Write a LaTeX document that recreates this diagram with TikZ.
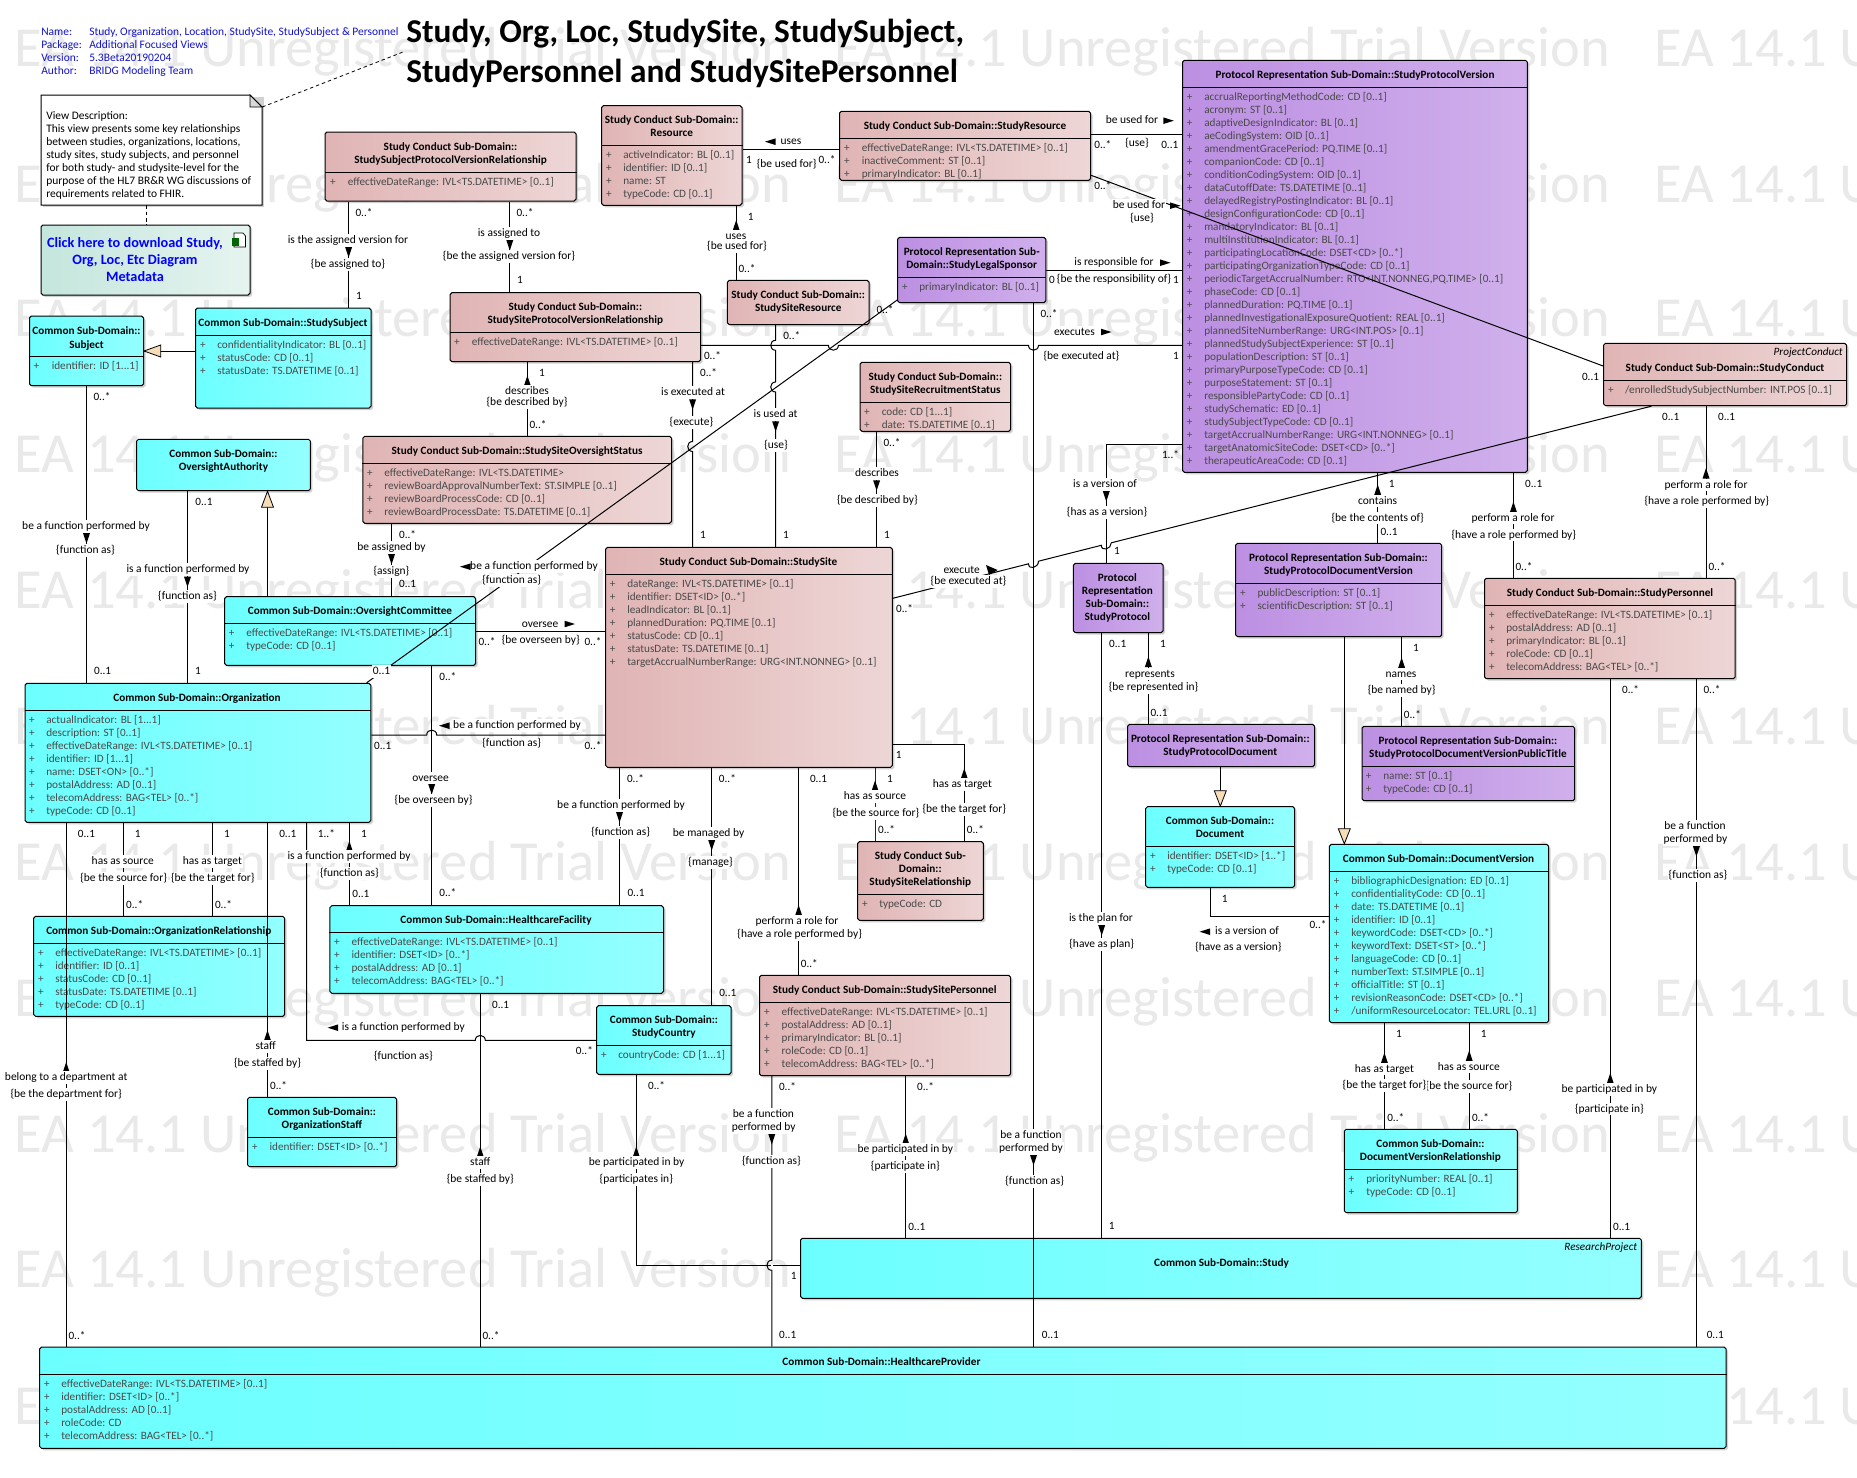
\documentclass[tikz,border=0pt]{standalone}
\usepackage{fontspec}
\setmainfont{Carlito}
\usetikzlibrary{shadows}
\definecolor{pinkL}{HTML}{E0B4B4}
\definecolor{pinkR}{HTML}{EED6D6}
\definecolor{cyanL}{HTML}{6CFFFF}
\definecolor{cyanR}{HTML}{94FFFF}
\definecolor{purpL}{HTML}{BC8FE2}
\definecolor{purpR}{HTML}{D0B0EC}
\definecolor{greenL}{HTML}{C4E6DC}
\definecolor{greenR}{HTML}{E6F4F0}
\definecolor{wmark}{HTML}{E9E9E9}
\definecolor{genfill}{HTML}{F6DDB8}
\definecolor{attrc}{HTML}{4A4A4A}
\definecolor{metac}{HTML}{1414C8}
\newcounter{nid}
\tikzset{
 box/.style={draw=black,line width=.75pt,rounded corners=1.4pt,inner sep=0pt,
   drop shadow={shadow xshift=1.5pt,shadow yshift=-1.5pt,fill=black!30,opacity=.6}},
 pinkb/.style={box,left color=pinkL,right color=pinkR},
 cyanb/.style={box,left color=cyanL,right color=cyanR},
 purpb/.style={box,left color=purpL,right color=purpR},
 greenb/.style={box,left color=greenL,right color=greenR},
 small/.style={font=\fontsize{8.4}{9.75}\selectfont,inner sep=0pt,text height=6.4pt,text depth=1.8pt},
 ttl/.style={small,font=\bfseries\fontsize{8.4}{9.75}\selectfont,anchor=center},
 attrt/.style={small,anchor=west,text=attrc},
 plust/.style={small,anchor=center,text=attrc},
 lab/.style={small,font=\fontsize{8.6}{9.75}\selectfont,anchor=center,fill=white,inner sep=.6pt},
 mul/.style={small,anchor=center},
 sepl/.style={line width=.75pt,draw=black},
 conn/.style={line width=.75pt,draw=black},
 meta/.style={small,font=\fontsize{8.6}{9.75}\selectfont,anchor=west,text=metac},
 gent/.style={line width=.6pt,draw=black,fill=genfill},
 note/.style={dashed,line width=.6pt,dash pattern=on 2.6pt off 2.2pt},
 wm/.style={anchor=west,inner sep=0pt,text=wmark,font=\fontsize{42.4}{46}\selectfont},
}
\newcommand\dBox[6]{\pgfmathsetmacro\bw{(#5-#3)*.75}\pgfmathsetmacro\bh{(#6-#4)*.75}%
 \node[#2,minimum width=\bw pt,minimum height=\bh pt] (#1) at ({(#3+#5)/2},{(#4+#6)/2}) {};}
\newcommand\dSep[2]{\draw[sepl] (#1.west |- 0,#2) -- (#1.east |- 0,#2);}
\newcommand\dTitle[3]{\stepcounter{nid}\node[ttl] (n\arabic{nid}) at (#1,#2) {#3};}
\newcommand\dAttrs[3]{\def\plusX{#1}\def\attrX{#2}\def\attrY{#3}}
\newcommand\dAttr[1]{\stepcounter{nid}\node[plust] (n\arabic{nid}p) at (\plusX,\attrY) {+};\node[attrt] (n\arabic{nid}) at (\attrX,\attrY) {#1};\pgfmathsetmacro\attrY{\attrY+13}}
\newcommand\dLab[3]{\stepcounter{nid}\node[lab] (n\arabic{nid}) at (#1,#2) {#3};}
\newcommand\dMul[3]{\stepcounter{nid}\node[mul] (n\arabic{nid}) at (#1,#2) {#3};}
\newcommand\dVert[3]{\draw[conn] (#1.south -| #3,0) -- (#2.north -| #3,0);}
\newcommand\dHorz[3]{\draw[conn] (#1.east |- 0,#3) -- (#2.west |- 0,#3);}
\newcommand\triD[2]{\fill[black] (#1-3.5,#2) -- (#1+3.5,#2) -- (#1,#2+10.5) -- cycle;}
\newcommand\triU[2]{\fill[black] (#1,#2) -- (#1+3.5,#2+10.5) -- (#1-3.5,#2+10.5) -- cycle;}
\newcommand\triR[2]{\fill[black] (#1,#2-3.3) -- (#1,#2+3.3) -- (#1+10.5,#2) -- cycle;}
\newcommand\triL[2]{\fill[black] (#1+10.5,#2-3.3) -- (#1+10.5,#2+3.3) -- (#1,#2) -- cycle;}
\newcommand\jumpL[2]{-- (#1,#2-5) .. controls (#1-6.5,#2-5) and (#1-6.5,#2+5) .. (#1,#2+5)}
\newcommand\jumpU[2]{-- (#1-5,#2) .. controls (#1-5,#2-6.5) and (#1+5,#2-6.5) .. (#1+5,#2)}
\newcommand\jumpD[2]{-- (#1-5,#2) .. controls (#1-5,#2+6.5) and (#1+5,#2+6.5) .. (#1+5,#2)}
\begin{document}
\begin{tikzpicture}[x=.75pt,y=-.75pt]
\useasboundingbox (0,0) rectangle (1857,1478);
\fill[white] (0,0) rectangle (1857,1478);
% watermark
\begin{scope}
\clip (0,0) rectangle (1857,1478);
\foreach \r in {52,188,322,458,594,730,866,1002,1138,1273,1410}
 \foreach \c in {14.5,834,1654}
  \node[wm] (wm\r-\c) at (\c,\r) {EA 14.1 Unregistered Trial Version};
\end{scope}
% header texts
\node[meta] (mn1) at (41,32) {Name:};
\node[meta] (mv1) at (89,32) {Study, Organization, Location, StudySite, StudySubject \& Personnel};
\node[meta] (mn2) at (41,45) {Package:};
\node[meta] (mv2) at (89,45) {Additional Focused Views};
\node[meta] (mn3) at (41,58) {Version:};
\node[meta] (mv3) at (89,58) {5.3Beta20190204};
\node[meta] (mn4) at (41,71) {Author:};
\node[meta] (mv4) at (89,71) {BRIDG Modeling Team};
\node[anchor=west,inner sep=0pt,font=\bfseries\fontsize{25}{30}\selectfont,align=left] (maintitle) at (406,53) {Study, Org, Loc, StudySite, StudySubject,\\StudyPersonnel and StudySitePersonnel};
\coordinate (titlec) at (403,52);
% note
\fill[black!18] (43,97) rectangle (264,207);
\draw[line width=.75pt,fill=white] (41,95) -- (250,95) -- (262,107) -- (262,205) -- (41,205) -- cycle;
\draw[line width=.6pt,fill=black!15] (250,95) -- (250,107) -- (262,107) -- cycle;
\node[inner sep=0pt,minimum width=165.75pt,minimum height=82.5pt] (noteb) at (151.5,150) {};
\node[anchor=west,inner sep=0pt,align=left,font=\fontsize{8.6}{9.75}\selectfont] (notet) at (46,155) {View Description:\\This view presents some key relationships\\between studies, organizations, locations,\\study sites, study subjects, and personnel\\for both study- and studysite-level for the\\purpose of the HL7 BR\&R WG discussions of\\requirements related to FHIR.};
% green
\dBox{dl}{greenb}{41}{225}{250}{295}
\node[inner sep=0pt,font=\bfseries\fontsize{10.7}{12.75}\selectfont,text=blue,align=center] (dlt) at (135,259.5) {Click here to download Study,\\Org, Loc, Etc Diagram\\Metadata};
\draw[line width=.5pt,fill=white] (234,233) -- (243,233) -- (245.5,236) -- (245.5,247) -- (234,247) -- cycle;
\fill[black!60!green] (232,238) rectangle (238.5,245.5);
% boxes
\dBox{subject}{cyanb}{29.5}{316}{143.5}{385.7}
\dSep{subject}{356}
\dTitle{86.5}{331.7}{Common Sub-Domain::}\dTitle{86.5}{345}{Subject}
\dAttrs{36.5}{51.5}{366.7}\dAttr{identifier: ID [1...1]}

\dBox{ssubj}{cyanb}{195.5}{308}{371}{408}
\dSep{ssubj}{335}
\dTitle{283}{323.7}{Common Sub-Domain::StudySubject}
\dAttrs{203}{217}{345.7}\dAttr{confidentialityIndicator: BL [0..1]}\dAttr{statusCode: CD [0..1]}\dAttr{statusDate: TS.DATETIME [0..1]}

\dBox{sspvr}{pinkb}{325}{132}{576}{201}
\dSep{sspvr}{172.7}
\dTitle{450.5}{147.7}{Study Conduct Sub-Domain::}\dTitle{450.5}{160.7}{StudySubjectProtocolVersionRelationship}
\dAttrs{333}{347.5}{182.7}\dAttr{effectiveDateRange: IVL<TS.DATETIME> [0..1]}

\dBox{sitepvr}{pinkb}{450}{292.7}{700.6}{361.7}
\dSep{sitepvr}{332.3}
\dTitle{575.3}{307.7}{Study Conduct Sub-Domain::}\dTitle{575.3}{320.7}{StudySiteProtocolVersionRelationship}
\dAttrs{457}{471.5}{342.7}\dAttr{effectiveDateRange: IVL<TS.DATETIME> [0..1]}

\dBox{resource}{pinkb}{601.5}{105.7}{742}{205.3}
\dSep{resource}{145.3}
\dTitle{671.7}{120.7}{Study Conduct Sub-Domain::}\dTitle{671.7}{133.7}{Resource}
\dAttrs{609}{623}{155.7}\dAttr{activeIndicator: BL [0..1]}\dAttr{identifier: ID [0..1]}\dAttr{name: ST}\dAttr{typeCode: CD [0..1]}

\dBox{sres}{pinkb}{839.5}{111.3}{1090.6}{180.3}
\dSep{sres}{138.3}
\dTitle{965}{126.7}{Study Conduct Sub-Domain::StudyResource}
\dAttrs{847}{861.5}{148.7}\dAttr{effectiveDateRange: IVL<TS.DATETIME> [0..1]}\dAttr{inactiveComment: ST [0..1]}\dAttr{primaryIndicator: BL [0..1]}

\dBox{ssres}{pinkb}{727.4}{280.3}{869}{324.7}
\dTitle{798.2}{295.7}{Study Conduct Sub-Domain::}\dTitle{798.2}{308.7}{StudySiteResource}

\dBox{legal}{purpb}{897.7}{237.3}{1045.8}{302.7}
\dSep{legal}{277.7}
\dTitle{971.7}{252.7}{Protocol Representation Sub-}\dTitle{971.7}{265.7}{Domain::StudyLegalSponsor}
\dAttrs{905}{919}{287.7}\dAttr{primaryIndicator: BL [0..1]}

\dBox{recruit}{pinkb}{860}{362.3}{1010.6}{431.3}
\dSep{recruit}{402.7}
\dTitle{935.3}{377.7}{Study Conduct Sub-Domain::}\dTitle{935.3}{390.7}{StudySiteRecruitmentStatus}
\dAttrs{867}{881.5}{412.7}\dAttr{code: CD [1...1]}\dAttr{date: TS.DATETIME [0..1]}

\dBox{pv}{purpb}{1182.5}{60.3}{1527.4}{472.3}
\dSep{pv}{87.3}
\dTitle{1355}{75.7}{Protocol Representation Sub-Domain::StudyProtocolVersion}
\dAttrs{1189.7}{1204}{97.7}
\dAttr{accrualReportingMethodCode: CD [0..1]}\dAttr{acronym: ST [0..1]}\dAttr{adaptiveDesignIndicator: BL [0..1]}\dAttr{aeCodingSystem: OID [0..1]}\dAttr{amendmentGracePeriod: PQ.TIME [0..1]}\dAttr{companionCode: CD [0..1]}\dAttr{conditionCodingSystem: OID [0..1]}\dAttr{dataCutoffDate: TS.DATETIME [0..1]}\dAttr{delayedRegistryPostingIndicator: BL [0..1]}\dAttr{designConfigurationCode: CD [0..1]}\dAttr{mandatoryIndicator: BL [0..1]}\dAttr{multiInstitutionIndicator: BL [0..1]}\dAttr{participatingLocationCode: DSET<CD> [0..*]}\dAttr{participatingOrganizationTypeCode: CD [0..1]}\dAttr{periodicTargetAccrualNumber: RTO<INT.NONNEG,PQ.TIME> [0..1]}\dAttr{phaseCode: CD [0..1]}\dAttr{plannedDuration: PQ.TIME [0..1]}\dAttr{plannedInvestigationalExposureQuotient: REAL [0..1]}\dAttr{plannedSiteNumberRange: URG<INT.POS> [0..1]}\dAttr{plannedStudySubjectExperience: ST [0..1]}\dAttr{populationDescription: ST [0..1]}\dAttr{primaryPurposeTypeCode: CD [0..1]}\dAttr{purposeStatement: ST [0..1]}\dAttr{responsiblePartyCode: CD [0..1]}\dAttr{studySchematic: ED [0..1]}\dAttr{studySubjectTypeCode: CD [0..1]}\dAttr{targetAccrualNumberRange: URG<INT.NONNEG> [0..1]}\dAttr{targetAnatomicSiteCode: DSET<CD> [0..*]}\dAttr{therapeuticAreaCode: CD [0..1]}

\dBox{sconduct}{pinkb}{1603.6}{343.3}{1846.6}{405.7}
\dSep{sconduct}{380.3}
\stepcounter{nid}\node[small,anchor=east,font=\itshape\fontsize{8.4}{9.75}\selectfont] (n\arabic{nid}) at (1843,352.7) {ProjectConduct};
\dTitle{1725}{368.7}{Study Conduct Sub-Domain::StudyConduct}
\dAttrs{1610.8}{1624.8}{390.7}\dAttr{/enrolledStudySubjectNumber: INT.POS [0..1]}

\dBox{oa}{cyanb}{136.6}{439.3}{310.4}{490.7}
\dTitle{223.5}{454.7}{Common Sub-Domain::}\dTitle{223.5}{467.7}{OversightAuthority}

\dBox{status}{pinkb}{362.8}{436.3}{671.5}{523.3}
\dSep{status}{463.3}
\dTitle{517}{451.7}{Study Conduct Sub-Domain::StudySiteOversightStatus}
\dAttrs{370}{384}{473.7}\dAttr{effectiveDateRange: IVL<TS.DATETIME>}\dAttr{reviewBoardApprovalNumberText: ST.SIMPLE [0..1]}\dAttr{reviewBoardProcessCode: CD [0..1]}\dAttr{reviewBoardProcessDate: TS.DATETIME [0..1]}

\dBox{oc}{cyanb}{224.6}{596.7}{475.7}{665.3}
\dSep{oc}{623.3}
\dTitle{350}{611.7}{Common Sub-Domain::OversightCommittee}
\dAttrs{231.7}{246}{633.7}\dAttr{effectiveDateRange: IVL<TS.DATETIME> [0..1]}\dAttr{typeCode: CD [0..1]}

\dBox{org}{cyanb}{25}{683.3}{370.8}{822.3}
\dSep{org}{710.3}
\dTitle{197}{698.7}{Common Sub-Domain::Organization}
\dAttrs{32}{46}{720.7}\dAttr{actualIndicator: BL [1...1]}\dAttr{description: ST [0..1]}\dAttr{effectiveDateRange: IVL<TS.DATETIME> [0..1]}\dAttr{identifier: ID [1...1]}\dAttr{name: DSET<ON> [0..*]}\dAttr{postalAddress: AD [0..1]}\dAttr{telecomAddress: BAG<TEL> [0..*]}\dAttr{typeCode: CD [0..1]}

\dBox{site}{pinkb}{605.7}{547.3}{892.3}{767.3}
\dSep{site}{574.7}
\dTitle{748.4}{562.7}{Study Conduct Sub-Domain::StudySite}
\dAttrs{612.6}{627}{584.7}\dAttr{dateRange: IVL<TS.DATETIME> [0..1]}\dAttr{identifier: DSET<ID> [0..*]}\dAttr{leadIndicator: BL [0..1]}\dAttr{plannedDuration: PQ.TIME [0..1]}\dAttr{statusCode: CD [0..1]}\dAttr{statusDate: TS.DATETIME [0..1]}\dAttr{targetAccrualNumberRange: URG<INT.NONNEG> [0..1]}

\dBox{protocol}{purpb}{1073.4}{563.3}{1163}{632.7}
\dTitle{1117.4}{578.7}{Protocol}\dTitle{1117.4}{591.7}{Representation}\dTitle{1117.4}{604.7}{Sub-Domain::}\dTitle{1117.4}{617.7}{StudyProtocol}

\dBox{spdv}{purpb}{1235.7}{543.3}{1441.7}{636.7}
\dSep{spdv}{583.3}
\dTitle{1338.5}{558.7}{Protocol Representation Sub-Domain::}\dTitle{1338.5}{571.7}{StudyProtocolDocumentVersion}
\dAttrs{1242.9}{1257.3}{593.7}\dAttr{publicDescription: ST [0..1]}\dAttr{scientificDescription: ST [0..1]}

\dBox{personnel}{pinkb}{1484.5}{578.3}{1735.2}{678.7}
\dSep{personnel}{605.3}
\dTitle{1610}{593.7}{Study Conduct Sub-Domain::StudyPersonnel}
\dAttrs{1491.8}{1506}{615.7}\dAttr{effectiveDateRange: IVL<TS.DATETIME> [0..1]}\dAttr{postalAddress: AD [0..1]}\dAttr{primaryIndicator: BL [0..1]}\dAttr{roleCode: CD [0..1]}\dAttr{telecomAddress: BAG<TEL> [0..*]}

\dBox{spd}{purpb}{1127.7}{724.3}{1314.6}{766.7}
\dTitle{1220.3}{739.7}{Protocol Representation Sub-Domain::}\dTitle{1220.3}{752.7}{StudyProtocolDocument}

\dBox{doc}{cyanb}{1145.7}{806.7}{1294.7}{887.3}
\dSep{doc}{846.7}
\dTitle{1220}{821.7}{Common Sub-Domain::}\dTitle{1220}{834.7}{Document}
\dAttrs{1153}{1167}{856.7}\dAttr{identifier: DSET<ID> [1..*]}\dAttr{typeCode: CD [0..1]}

\dBox{title}{purpb}{1362}{726.3}{1574.7}{800.7}
\dSep{title}{766.3}
\dTitle{1467.9}{741.7}{Protocol Representation Sub-Domain::}\dTitle{1467.9}{754.7}{StudyProtocolDocumentVersionPublicTitle}
\dAttrs{1368.7}{1383}{776.7}\dAttr{name: ST [0..1]}\dAttr{typeCode: CD [0..1]}

\dBox{dv}{cyanb}{1329.4}{844.3}{1548.6}{1022.7}
\dSep{dv}{871.3}
\dTitle{1438.6}{859.7}{Common Sub-Domain::DocumentVersion}
\dAttrs{1336.7}{1351}{881.7}\dAttr{bibliographicDesignation: ED [0..1]}\dAttr{confidentialityCode: CD [0..1]}\dAttr{date: TS.DATETIME [0..1]}\dAttr{identifier: ID [0..1]}\dAttr{keywordCode: DSET<CD> [0..*]}\dAttr{keywordText: DSET<ST> [0..*]}\dAttr{languageCode: CD [0..1]}\dAttr{numberText: ST.SIMPLE [0..1]}\dAttr{officialTitle: ST [0..1]}\dAttr{revisionReasonCode: DSET<CD> [0..*]}\dAttr{/uniformResourceLocator: TEL.URL [0..1]}

\dBox{dvr}{cyanb}{1344.3}{1129.3}{1517.4}{1212.7}
\dSep{dvr}{1169.3}
\dTitle{1430.4}{1144.7}{Common Sub-Domain::}\dTitle{1430.4}{1157.7}{DocumentVersionRelationship}
\dAttrs{1351.5}{1366}{1179.7}\dAttr{priorityNumber: REAL [0..1]}\dAttr{typeCode: CD [0..1]}

\dBox{study}{cyanb}{800.5}{1238.3}{1641.4}{1298.3}
\stepcounter{nid}\node[small,anchor=east,font=\itshape\fontsize{8.4}{9.75}\selectfont] (n\arabic{nid}) at (1637.4,1247.7) {ResearchProject};
\dTitle{1221.5}{1263.7}{Common Sub-Domain::Study}

\dBox{provider}{cyanb}{39.7}{1347}{1726}{1448.3}
\dSep{provider}{1374.3}
\dTitle{881.5}{1362.7}{Common Sub-Domain::HealthcareProvider}
\dAttrs{46.9}{61}{1384.7}\dAttr{effectiveDateRange: IVL<TS.DATETIME> [0..1]}\dAttr{identifier: DSET<ID> [0..*]}\dAttr{postalAddress: AD [0..1]}\dAttr{roleCode: CD}\dAttr{telecomAddress: BAG<TEL> [0..*]}

\dBox{orel}{cyanb}{33.7}{916.3}{284.7}{1016.3}
\dSep{orel}{943.7}
\dTitle{158.8}{931.3}{Common Sub-Domain::OrganizationRelationship}
\dAttrs{41}{55}{953.7}\dAttr{effectiveDateRange: IVL<TS.DATETIME> [0..1]}\dAttr{identifier: ID [0..1]}\dAttr{statusCode: CD [0..1]}\dAttr{statusDate: TS.DATETIME [0..1]}\dAttr{typeCode: CD [0..1]}

\dBox{hf}{cyanb}{329.9}{905.7}{663.5}{993.3}
\dSep{hf}{932.7}
\dTitle{496}{920.7}{Common Sub-Domain::HealthcareFacility}
\dAttrs{336.8}{351.3}{942.7}\dAttr{effectiveDateRange: IVL<TS.DATETIME> [0..1]}\dAttr{identifier: DSET<ID> [0..*]}\dAttr{postalAddress: AD [0..1]}\dAttr{telecomAddress: BAG<TEL> [0..*]}

\dBox{ostaff}{cyanb}{247.6}{1097.3}{396.5}{1166.7}
\dSep{ostaff}{1137.3}
\dTitle{321.9}{1112.7}{Common Sub-Domain::}\dTitle{321.9}{1125.7}{OrganizationStaff}
\dAttrs{254.9}{269.4}{1147.7}\dAttr{identifier: DSET<ID> [0..*]}

\dBox{country}{cyanb}{596.5}{1005.7}{731.2}{1074.3}
\dSep{country}{1045.3}
\dTitle{663.9}{1020.7}{Common Sub-Domain::}\dTitle{663.9}{1033.7}{StudyCountry}
\dAttrs{603.8}{618}{1055.7}\dAttr{countryCode: CD [1...1]}

\dBox{ssp}{pinkb}{759.5}{975.3}{1010.6}{1075.7}
\dSep{ssp}{1002.7}
\dTitle{884.7}{990.7}{Study Conduct Sub-Domain::StudySitePersonnel}
\dAttrs{766.8}{781.4}{1012.7}\dAttr{effectiveDateRange: IVL<TS.DATETIME> [0..1]}\dAttr{postalAddress: AD [0..1]}\dAttr{primaryIndicator: BL [0..1]}\dAttr{roleCode: CD [0..1]}\dAttr{telecomAddress: BAG<TEL> [0..*]}

\dBox{ssrel}{pinkb}{857.5}{841.7}{983.4}{920.3}
\dSep{ssrel}{894.3}
\dTitle{920.3}{856.7}{Study Conduct Sub-}\dTitle{920.3}{869.7}{Domain::}\dTitle{920.3}{882.7}{StudySiteRelationship}
\dAttrs{864.8}{879}{904.7}\dAttr{typeCode: CD}

% ---------- connectors
\draw[note] (noteb.east |- 0,107) -- (titlec);
\draw[note] (noteb.south -| 146.5,0) -- (dl.north -| 146.5,0);
% generalisations
\draw[conn] (ssubj.west |- 0,351) -- (subject.east |- 0,351);
\draw[conn] (oc.north -| 267.5,0) -- (oa.south -| 267.5,0);
\draw[conn] (spd.south -| 1220.3,0) -- (doc.north -| 1220.3,0);
\draw[conn] (spdv.south -| 1344.3,0) -- (dv.north -| 1344.3,0);
% top-left
\dVert{sspvr}{ssubj}{348.6}
\dVert{sspvr}{sitepvr}{509.8}
\dVert{sitepvr}{status}{527.4}
\dVert{subject}{org}{86.5}
\dVert{oa}{org}{187.5}
\dVert{status}{oc}{391.5}
\dVert{resource}{ssres}{736.2}
\dHorz{resource}{sres}{149.7}
\dHorz{sres}{pv}{134.3}
\dHorz{legal}{pv}{270.3}
\dHorz{oc}{site}{631.3}
\dVert{recruit}{site}{876.6}
\dVert{oc}{hf}{431.7}
% StudyResource -- StudyConduct
\draw[conn] (sres.east |- 0,175.3) -- (sconduct.west |- 0,366);
% StudyLegalSponsor -- Organization
\draw[conn] (legal.west |- 0,300) -- (org.north -| 366.6,0);
% StudySitePVR -- ProtocolVersion
\draw[conn] (sitepvr.east |- 0,345.3) \jumpD{833.4}{345.3} \jumpD{1033.5}{345.3} -- (pv.west |- 0,345.3);
% Org -- StudySite
\draw[conn] (org.east |- 0,735) \jumpU{431.7}{735} -- (site.west |- 0,735);
% verticals to StudySite
\draw[conn] (sitepvr.south -| 692.6,0) \jumpL{692.6}{446.5} -- (site.north -| 692.6,0);
\draw[conn] (ssres.south -| 775.6,0) \jumpL{775.6}{345.3} \jumpL{775.6}{387} -- (site.north -| 775.6,0);
% legal sponsor -- provider
\dVert{legal}{provider}{1033.5}
% execute
\draw[conn] (site.east |- 0,598.3) -- (1028.5,563.8) .. controls (1028.5,570.3) and (1038.5,567.8) .. (1038.5,561.2) -- (1101.3,545.3) .. controls (1101.3,551.8) and (1111.3,549.3) .. (1111.3,542.8) -- (sconduct.south -| 1651.4,0);
% protocol version -- protocol
\draw[conn] (pv.west |- 0,444.3) -| (protocol.north -| 1106.3,0);
\dVert{pv}{spdv}{1377.7}
\dVert{pv}{personnel}{1513.4}
\dVert{sconduct}{personnel}{1706}
\dVert{personnel}{study}{1610.3}
\dVert{personnel}{provider}{1696.4}
\dVert{protocol}{study}{1101.7}
\dVert{protocol}{spd}{1148.4}
\dVert{spdv}{title}{1401.6}
\draw[conn] (doc.south -| 1210.4,0) |- (dv.west |- 0,916);
\dVert{dv}{dvr}{1384.4}
\dVert{dv}{dvr}{1469.2}
% organisation downwards
\dVert{org}{provider}{66.2}
\dVert{org}{orel}{123.2}
\dVert{org}{orel}{212.4}
\dVert{org}{ostaff}{267.5}
\draw[conn] (org.south -| 306.5,0) |- (475.3,1040.3) .. controls (475.3,1033.8) and (485.3,1033.8) .. (485.3,1040.3) -- (country.west |- 0,1040.3);
\dVert{org}{hf}{349.4}
\dVert{hf}{provider}{480.3}
% study site downwards
\dVert{site}{hf}{619.5}
\dVert{site}{country}{711.7}
\dVert{site}{ssp}{798.6}
\draw[conn,draw=black!40!purple] (site.south -| 875,0) -- (ssrel.north -| 875,0);
\draw[conn] (site.east |- 0,744.3) -| (ssrel.north -| 964.3,0);
\dVert{ssp}{study}{905.7}
\draw[conn] (country.south -| 636.3,0) |- (study.west |- 0,1265.3);
\draw[conn] (ssp.south -| 771.8,0) \jumpL{771.8}{1265.3} -- (provider.north -| 771.8,0);
\draw[draw=white,line width=1.5pt] (771,1265.3) -- (772.6,1265.3);
% generalisation heads
\draw[gent] (subject.east |- 0,351) -- (160.7,345) -- (160.7,357) -- cycle;
\draw[gent] (oa.south -| 267.5,0) -- (261.5,507.3) -- (273.5,507.3) -- cycle;
\draw[gent] (doc.north -| 1220.3,0) -- (1214.3,790.7) -- (1226.3,790.7) -- cycle;
\draw[gent] (dv.north -| 1344.3,0) -- (1338.3,828.7) -- (1350.3,828.7) -- cycle;
% ---------- labels
\dMul{364}{213}{0..*}\dLab{348}{240.7}{is the assigned version for}\triD{348.6}{247}\dLab{348}{264.7}{\{be assigned to\}}\dMul{359}{296}{1}
\dMul{525}{213}{0..*}\dLab{509}{233.7}{is assigned to}\triD{509.8}{240}\dLab{509}{256.7}{\{be the assigned version for\}}\dMul{520}{280.7}{1}
\dMul{542}{373}{1}\triU{527.4}{375.5}\dLab{527}{391.7}{describes}\dLab{527}{402.7}{\{be described by\}}\dMul{538}{425.7}{0..*}
\dMul{102}{397}{0..*}\dLab{86}{526.7}{be a function performed by}\triD{86.5}{533}\dLab{85.5}{550.7}{\{function as\}}\dMul{102.6}{671.7}{0..1}
\dMul{204}{502.7}{0..1}\dLab{188}{569.7}{is a function performed by}\triD{187.5}{576.5}\dLab{187.5}{596.7}{\{function as\}}\dMul{198}{671.7}{1}
\dMul{407.6}{535.7}{0..*}\dLab{391.5}{547.7}{be assigned by}\triD{391.5}{554}\dLab{391.5}{571.7}{\{assign\}}\dMul{407.6}{584.3}{0..1}
\dLab{534}{566.7}{be a function performed by}\triL{460}{566.7}\dLab{511.7}{580.7}{\{function as\}}\dMul{885}{310.7}{0..*}\dLab{381.5}{671.7}{0..1}
\dMul{487}{642.3}{0..*}\dLab{540}{624}{oversee}\triR{564.5}{624}\dLab{540.7}{640.7}{\{be overseen by\}}\dMul{593}{642.3}{0..*}
\dMul{447.8}{677.3}{0..*}\dLab{430.5}{778}{oversee}\triD{431.7}{784}\dLab{433.6}{800.7}{\{be overseen by\}}\dMul{447.8}{893.7}{0..*}
\dLab{517}{725.7}{be a function performed by}\triL{439}{725.7}\dLab{511.7}{743.7}{\{function as\}}\dMul{382.7}{746.7}{0..1}\dMul{593}{746.7}{0..*}
\dMul{708.6}{373.3}{0..*}\dLab{693}{392.7}{is executed at}\triD{692.6}{399.3}\dLab{691.4}{422.7}{\{execute\}}\dMul{703}{535.7}{1}
\dMul{791.7}{336.3}{0..*}\dLab{775.6}{414.7}{is used at}\triD{775.6}{421.3}\dLab{776}{445.7}{\{use\}}\dMul{786}{535.7}{1}
\dLab{791}{141.7}{uses}\triL{765}{141.7}\dMul{749}{160.7}{1}\dLab{786.7}{164.3}{\{be used for\}}\dMul{827}{160.7}{0..*}
\dMul{750.7}{217.3}{1}\triU{736.2}{220}\dLab{736}{236}{uses}\dLab{737}{246.7}{\{be used for\}}\dMul{747}{269.3}{0..*}
\dLab{1132}{120.7}{be used for}\triR{1163.3}{120.7}\dMul{1102.8}{145.3}{0..*}\dLab{1137}{143.7}{\{use\}}\dMul{1169.8}{145.3}{0..1}
\dMul{1102.8}{186.3}{0..*}\dLab{1139}{205.7}{be used for}\dLab{1142}{218.7}{\{use\}}\triR{1170}{205.7}\dMul{1590.5}{377.7}{0..1}
\dLab{1114}{262.7}{is responsible for}\triR{1160}{262.7}\dMul{1052}{280.7}{0}\dLab{1114}{279.7}{\{be the responsibility of\}}\dMul{1176}{280.7}{1}
\dMul{1049}{314.7}{0..*}\dLab{1031}{1135.7}{be a function}\dLab{1031}{1148.7}{performed by}\triD{1033.5}{1155}\dLab{1034.7}{1181.7}{\{function as\}}\dMul{1050.4}{1335.7}{0..1}
\dMul{712.5}{356.3}{0..*}\dLab{1074.5}{332}{executes}\triR{1101}{332}\dLab{1081.4}{356.7}{\{be executed at\}}\dMul{1176}{356.7}{1}
\dMul{892}{443.3}{0..*}\dLab{877}{473.7}{describes}\triD{876.6}{480.3}\dLab{877.4}{500.7}{\{be described by\}}\dMul{887}{535.7}{1}
\dMul{1170.5}{455.7}{1..*}\dLab{1105}{484.7}{is a version of}\triD{1106.3}{491}\dLab{1107}{512.7}{\{has as a version\}}\dMul{1117}{551.3}{1}
\dLab{961.6}{570}{execute}\dLab{968.5}{581.7}{\{be executed at\}}\fill[black] (986,565) -- (989,575) -- (997.6,570) -- cycle;\dMul{904.6}{609.3}{0..*}\dMul{1670.7}{417.7}{0..1}
\dMul{1391.7}{484.3}{1}\triU{1377.7}{484.5}\dLab{1377.7}{501}{contains}\dLab{1377.7}{518}{\{be the contents of\}}\dMul{1389}{532.7}{0..1}
\dMul{1533.7}{484.3}{0..1}\triU{1513.4}{501.5}\dLab{1513}{518}{perform a role for}\dLab{1513.8}{535}{\{have a role performed by\}}\dMul{1524}{567.3}{0..*}
\dMul{1726.6}{417.7}{0..1}\triU{1706}{468}\dLab{1706}{485}{perform a role for}\dLab{1706.8}{501.7}{\{have a role performed by\}}\dMul{1717}{567.3}{0..*}
\dMul{1630.6}{690.7}{0..*}\triU{1610.3}{1073}\dLab{1609.4}{1089.7}{be participated in by}\dLab{1609.4}{1109}{\{participate in\}}\dMul{1621.6}{1227.7}{0..1}
\dMul{1712}{690.7}{0..*}\dLab{1695}{826.7}{be a function}\dLab{1695.5}{839.7}{performed by}\triD{1696.4}{846}\dLab{1698}{875.7}{\{function as\}}\dMul{1715.3}{1335.7}{0..1}
\dMul{1117.7}{644.3}{0..1}\dLab{1101}{918.7}{is the plan for}\triD{1101.7}{925}\dLab{1101.7}{944.7}{\{have as plan\}}\dMul{1111.6}{1226.3}{1}
\dMul{1163}{644.3}{1}\triU{1148.4}{656.5}\dLab{1150}{674}{represents}\dLab{1153.6}{687.7}{\{be represented in\}}\dMul{1159}{713.7}{0..1}
\dMul{1416}{648.7}{1}\triU{1401.6}{657.5}\dLab{1401}{674}{names}\dLab{1401.6}{690.7}{\{be named by\}}\dMul{1412.4}{715.7}{0..*}
\dMul{1224.8}{899.7}{1}\dMul{1318}{925.7}{0..*}\dLab{1247}{931.7}{is a version of}\triL{1199.6}{931.7}\dLab{1238.4}{947.7}{\{have as a version\}}
\dMul{1483.6}{1034.3}{1}\triU{1469.2}{1050.5}\dLab{1468.8}{1067}{has as source}\dLab{1469}{1086.7}{\{be the source for\}}\dMul{1480.5}{1118.7}{0..*}
\dMul{1398.9}{1034.3}{1}\triU{1384.4}{1052.5}\dLab{1384.4}{1069}{has as target}\dLab{1384.4}{1085.7}{\{be the target for\}}\dMul{1395.7}{1118.7}{0..*}
\dMul{86.5}{834.3}{0..1}\triU{66.2}{1062}\dLab{66.2}{1077.7}{belong to a department at}\dLab{66.2}{1094.7}{\{be the department for\}}\dMul{77}{1336.3}{0..*}
\dMul{137.8}{834.3}{1}\dLab{122.8}{861.7}{has as source}\dLab{123.6}{878.7}{\{be the source for\}}\dMul{134.7}{905.3}{0..*}
\dMul{227}{834.3}{1}\dLab{212.4}{861.7}{has as target}\dLab{212.8}{878.7}{\{be the target for\}}\dMul{223.5}{905.3}{0..*}
\dMul{287.8}{834.3}{0..1}\triU{267.5}{1030}\dLab{265.6}{1046.7}{staff}\dLab{267.5}{1063.7}{\{be staffed by\}}\dMul{278.6}{1086.3}{0..*}
\dMul{326.4}{834.3}{1..*}\dLab{403.4}{1027.7}{is a function performed by}\triL{327.6}{1027.7}\dLab{403.4}{1056.7}{\{function as\}}\dMul{584.4}{1051.3}{0..*}
\dMul{364}{834.3}{1}\triU{349.4}{841}\dLab{349}{856.7}{is a function performed by}\dLab{349.4}{873.7}{\{function as\}}\dMul{360.9}{894.7}{0..1}
\dMul{500.6}{1005.7}{0..1}\triU{480.3}{1146.5}\dLab{480.3}{1162.7}{staff}\dLab{480.3}{1179.7}{\{be staffed by\}}\dMul{491}{1336.3}{0..*}
\dMul{635.5}{779.7}{0..*}\dLab{621}{805.7}{be a function performed by}\triD{619.5}{812}\dLab{620.6}{832.7}{\{function as\}}\dMul{636}{893.7}{0..1}
\dMul{727.4}{779.7}{0..*}\dLab{708.6}{833.7}{be managed by}\triD{711.7}{840}\dLab{710.6}{862.7}{\{manage\}}\dMul{727.8}{993.7}{0..1}
\dMul{818.5}{779.7}{0..1}\triU{798.6}{905}\dLab{797}{921.7}{perform a role for}\dLab{799.7}{934.7}{\{have a role performed by\}}\dMul{809.3}{964.3}{0..*}
\dMul{890}{779.7}{1}\triU{875}{780.5}\dLab{875}{796.7}{has as source}\dLab{875.9}{813.7}{\{be the source for\}}\dMul{886.6}{830}{0..*}
\dMul{898.8}{755.3}{1}\triU{964.3}{768.3}\dLab{962.4}{784.7}{has as target}\dLab{964.3}{809.7}{\{be the target for\}}\dMul{975.4}{830}{0..*}
\dMul{656.6}{1086.3}{0..*}\triU{636.3}{1146.5}\dLab{636.6}{1162.7}{be participated in by}\dLab{636.3}{1179.7}{\{participates in\}}\dMul{793.6}{1276.7}{1}
\dMul{787.5}{1087.3}{0..*}\dLab{763.4}{1114.7}{be a function}\dLab{763.7}{1127.7}{performed by}\triD{771.8}{1134}\dLab{771.4}{1161.7}{\{function as\}}\dMul{787.7}{1335.7}{0..1}
\dMul{925.6}{1087.3}{0..*}\triU{905.7}{1133.5}\dLab{905.3}{1149.7}{be participated in by}\dLab{905.3}{1166.7}{\{participate in\}}\dMul{916.8}{1227.3}{0..1}
\end{tikzpicture}
\end{document}
